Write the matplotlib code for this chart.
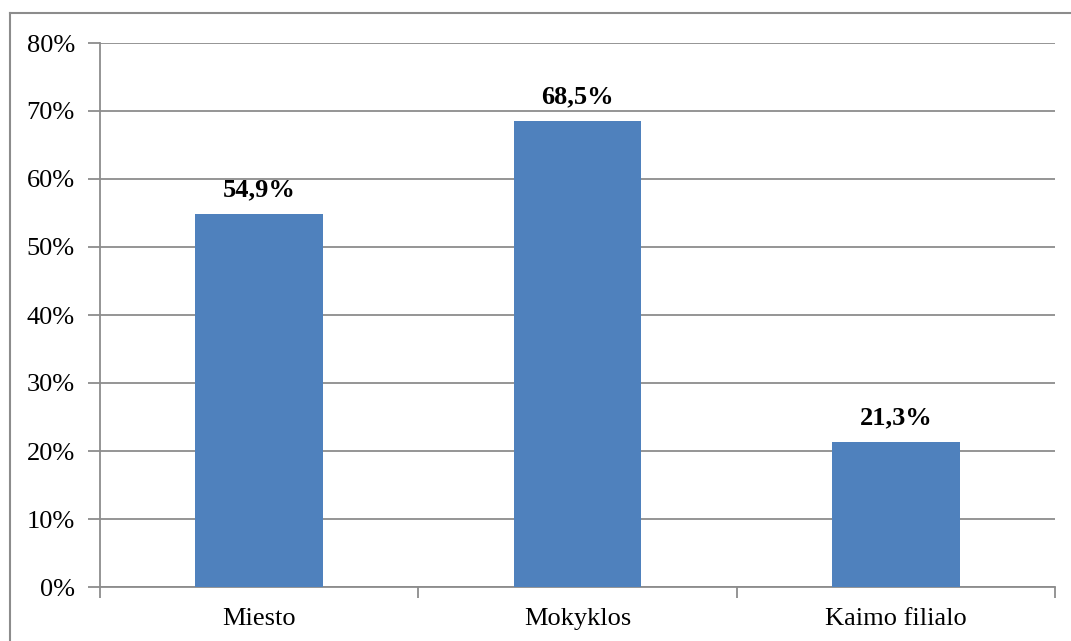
import matplotlib
matplotlib.use('Agg')
from matplotlib import pyplot as plt
from matplotlib.lines import Line2D
import numpy as np

categories = ['Miesto', 'Mokyklos', 'Kaimo filialo']
values = [54.9, 68.5, 21.3]
labels = ['54,9%', '68,5%', '21,3%']

plt.rcParams['font.family'] = ['Liberation Serif', 'DejaVu Serif']

fig = plt.figure(figsize=(10.71, 6.41), dpi=100)
W, H = 1071, 641
ax = fig.add_axes([100 / W, 1 - 587 / H, (1055 - 100) / W, (587 - 43) / H])

# outer chart frame: only left and top edges are visible in the crop
fl, ft = 10 / W, 1 - 13 / H
for xs, ys in [([fl, fl], [0, ft]), ([fl, 1], [ft, ft])]:
    fig.lines.append(Line2D(xs, ys, transform=fig.transFigure,
                            color='#8c8c8c', linewidth=1.5))

x = np.arange(len(categories))
ax.bar(x, values, width=0.4, color='#4F81BD', zorder=3)
for xi, v, lab in zip(x, values, labels):
    ax.annotate(lab, (xi, v), xytext=(0, 9), textcoords='offset points',
                ha='center', va='bottom', fontsize=19, fontweight='bold')

ax.set_xlim(-0.5, len(categories) - 0.5)
ax.set_ylim(0, 80)
ax.set_yticks(np.arange(0, 81, 10))
ax.set_yticklabels([f'{t}%' for t in range(0, 81, 10)], fontsize=19)
ax.yaxis.grid(True, color='#8c8c8c', linewidth=1.3, zorder=0)

ax.set_xticks(x)
ax.set_xticklabels(categories, fontsize=19)
ax.tick_params(axis='x', length=0, pad=15)
ax.set_xticks(np.arange(-0.5, len(categories)), minor=True)
ax.tick_params(axis='x', which='minor', length=8, width=1.3, color='#8c8c8c')
ax.tick_params(axis='y', length=9, width=1.3, color='#8c8c8c', pad=9)

for s in ['top', 'right']:
    ax.spines[s].set_visible(False)
for s in ['left', 'bottom']:
    ax.spines[s].set_color('#8c8c8c')
    ax.spines[s].set_linewidth(1.3)

fig.savefig('out.png', dpi=100)
